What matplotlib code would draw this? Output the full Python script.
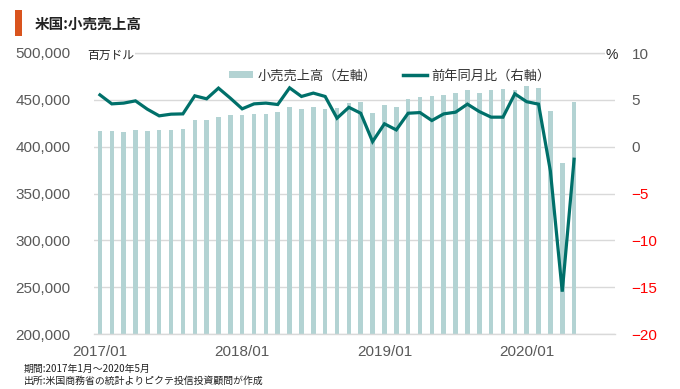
import matplotlib
matplotlib.use("Agg")
import matplotlib.pyplot as plt
from matplotlib.patches import Rectangle, Patch
from matplotlib.lines import Line2D

# ---- data ----
months = list(range(41))  # 2017/01 .. 2020/05
tick_pos = [0, 12, 24, 36]
tick_labels = ["2017/01", "2018/01", "2019/01", "2020/01"]

sales = [416800, 416800, 415700, 418200, 416500, 417900, 418200, 418600,
         428600, 428600, 432100, 434300, 433900, 435300, 435000, 436800,
         442000, 440000, 442000, 440300, 441000, 446400, 447500, 436400,
         444200, 442800, 450600, 452800, 454200, 455300, 457700, 460300,
         457700, 460300, 461300, 460600, 464900, 462700, 438500, 383000,
         447500]

yoy = [5.53, 4.57, 4.65, 4.89, 4.0, 3.29, 3.47, 3.50, 5.43, 5.11, 6.25,
       5.18, 4.04, 4.57, 4.65, 4.50, 6.28, 5.36, 5.72, 5.36, 3.04, 4.2,
       3.57, 0.54, 2.44, 1.79, 3.57, 3.64, 2.79, 3.50, 3.68, 4.54, 3.75,
       3.15, 3.15, 5.64, 4.8, 4.54, -2.6, -15.48, -1.34]

left_ticks = [200000, 250000, 300000, 350000, 400000, 450000, 500000]
right_ticks = [-20, -15, -10, -5, 0, 5, 10]

title = "米国:小売売上高"
bar_label = "小売売上高（左軸）"
line_label = "前年同月比（右軸）"
note1 = "期間:2017年1月～2020年5月"
note2 = "出所:米国商務省の統計よりピクテ投信投資顧問が作成"

BAR_C = "#b3d3d3"
LINE_C = "#00706a"
GRID_C = "#d9d9d9"
TXT_C = "#595959"
CJK = ["Noto Sans CJK JP", "DejaVu Sans"]
NUM = ["Liberation Sans", "DejaVu Sans"]

W, H = 680, 389
fig = plt.figure(figsize=(W / 100, H / 100), dpi=100)
L, R, T, B = 94, 615, 53, 334
ax = fig.add_axes([L / W, 1 - B / H, (R - L) / W, (B - T) / H])

ax.bar(months, sales, width=0.38, color=BAR_C, zorder=2)
ax.set_ylim(200000, 500000)
ax.set_xlim(-0.5, 43.45)
ax.set_yticks(left_ticks)
ax.set_yticklabels([f"{v:,}" for v in left_ticks], fontfamily=NUM, fontsize=11, color=TXT_C)
ax.set_xticks(tick_pos)
ax.set_xticklabels(tick_labels, fontfamily=NUM, fontsize=11, color=TXT_C)
ax.tick_params(axis="y", length=0, pad=17)
ax.tick_params(axis="x", length=0, pad=8)
ax.grid(axis="y", color=GRID_C, lw=1, zorder=0)
ax.set_axisbelow(True)
for s in ["left", "right"]:
    ax.spines[s].set_visible(False)
for s in ["top", "bottom"]:
    ax.spines[s].set_color(GRID_C)
    ax.spines[s].set_linewidth(1)

ax2 = ax.twinx()
ax2.plot(months, yoy, color=LINE_C, lw=2.3, zorder=3, solid_joinstyle="miter")
ax2.set_ylim(-20, 10)
ax2.set_yticks(right_ticks)
ax2.set_yticklabels([(f"−{abs(v)}" if v < 0 else f"{v}") for v in right_ticks],
                    fontfamily=NUM, fontsize=11)
for lab, v in zip(ax2.get_yticklabels(), right_ticks):
    lab.set_color("#ff0000" if v < 0 else TXT_C)
ax2.tick_params(axis="y", length=0, pad=12)
for s in ax2.spines.values():
    s.set_visible(False)

# title block
fig.add_artist(Rectangle((15 / W, 1 - 36 / H), 7 / W, 26 / H, transform=fig.transFigure,
                         color="#d9541e", lw=0))
fig.text(35 / W, 1 - 24 / H, title, fontfamily=CJK, fontsize=10.5, fontweight="bold",
         color="#222222", va="center", ha="left")

# units
fig.text(87 / W, 1 - 55 / H, "百万ドル", fontfamily=CJK, fontsize=8.5, color="#222222",
         va="center", ha="left",
         bbox=dict(facecolor="white", edgecolor="none", pad=1))
fig.text(606 / W, 1 - 55 / H, "%", fontfamily=NUM, fontsize=10, color="#222222",
         va="center", ha="left",
         bbox=dict(facecolor="white", edgecolor="none", pad=1))

# legend
handles = [Patch(facecolor=BAR_C, edgecolor="none"), Line2D([], [], color=LINE_C, lw=2.5)]
leg = fig.legend(handles, [bar_label, line_label], loc="center left",
                 bbox_to_anchor=(229 / W, 1 - 76 / H), ncol=2, frameon=False,
                 prop={"family": CJK, "size": 9.5}, handlelength=1.85, handleheight=0.45,
                 handletextpad=0.3, columnspacing=2.0, borderpad=0, borderaxespad=0)
for t in leg.get_texts():
    t.set_color("#333333")

# notes
fig.text(24 / W, 1 - 369 / H, note1, fontfamily=CJK, fontsize=7.1, color="#222222",
         va="center", ha="left")
fig.text(24 / W, 1 - 381 / H, note2, fontfamily=CJK, fontsize=7.1, color="#222222",
         va="center", ha="left")

fig.savefig("out.png", dpi=100)
